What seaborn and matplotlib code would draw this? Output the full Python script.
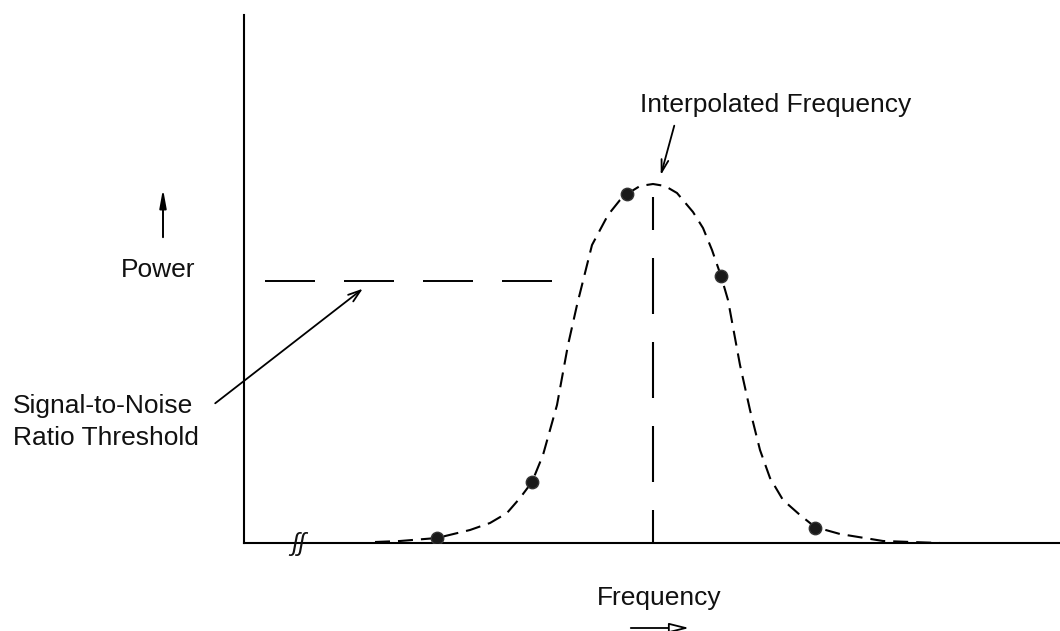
import matplotlib
matplotlib.use("Agg")
import matplotlib.pyplot as plt
import seaborn as sns
import pandas as pd

# ---- data (arbitrary frequency / power units) ----
curve_freq = [131, 156, 193, 226, 246, 263, 276, 288, 299, 313, 324, 333, 348, 364, 376, 383,
              396, 409, 421, 433, 449, 459, 468, 477, 484, 496, 506, 516, 526, 539, 556, 571,
              596, 639, 696]
curve_power = [1, 2, 5, 13, 20, 30, 45, 61, 88, 138, 198, 238, 298, 328, 343, 349,
               357, 359, 357, 350, 331, 315, 293, 267, 243, 178, 133, 93, 65, 43, 28, 16,
               9, 2, 0]
sample_freq = [193, 288, 383, 477, 571]
sample_power = [5, 61, 349, 267, 15]
interp_freq = 409
interp_line_top = 346
threshold = 262
threshold_start = 21
threshold_end = 311

sns.set_style("white")
plt.rcParams["font.family"] = ["Liberation Sans", "DejaVu Sans"]
plt.rcParams["lines.scale_dashes"] = False
plt.rcParams["text.color"] = "black"

fig = plt.figure(figsize=(10.6, 6.31), dpi=100)
ax = fig.add_axes([244 / 1060, 88 / 631, 816 / 1060, 528 / 631])
ax.set_xlim(0, 816)
ax.set_ylim(0, 528)
for s in ["top", "right"]:
    ax.spines[s].set_visible(False)
for s in ["left", "bottom"]:
    ax.spines[s].set_color("black")
    ax.spines[s].set_linewidth(1.5)
ax.set_xticks([])
ax.set_yticks([])
ax.patch.set_alpha(0)

px = 0.72  # points per pixel

curve = pd.DataFrame({"freq": curve_freq, "power": curve_power})
sns.lineplot(data=curve, x="freq", y="power", sort=False, estimator=None, ax=ax, color="black",
             linewidth=1.5, linestyle=(0, (15 * px, 8 * px)))

thr = pd.DataFrame({"freq": [threshold_start, threshold_end], "power": [threshold, threshold]})
sns.lineplot(data=thr, x="freq", y="power", estimator=None, ax=ax, color="black", linewidth=1.4,
             linestyle=(0, (50 * px, 29 * px)))

vline = pd.DataFrame({"freq": [interp_freq, interp_freq], "power": [interp_line_top, 0]})
sns.lineplot(data=vline, x="freq", y="power", sort=False, estimator=None, ax=ax, color="black",
             linewidth=1.5, linestyle=(23 * px, (56 * px, 28 * px)))

pts = pd.DataFrame({"freq": sample_freq, "power": sample_power})
sns.scatterplot(data=pts, x="freq", y="power", ax=ax, color="#1a1a1a", s=80,
                marker="o", edgecolor="#333333", linewidth=1, zorder=5)

ax.set_xlabel("")
ax.set_ylabel("")

fs = 19
tc = "#111111"
ax.text(-86, 266, "Power", fontsize=fs, ha="center", va="baseline", clip_on=False, color=tc)
ax.text(-231, 130, "Signal-to-Noise", fontsize=fs, ha="left", va="baseline", clip_on=False, color=tc)
ax.text(-231, 98, "Ratio Threshold", fontsize=fs, ha="left", va="baseline", clip_on=False, color=tc)
ax.text(396, 431, "Interpolated Frequency", fontsize=fs, ha="left", va="baseline", clip_on=False, color=tc)
ax.text(415, -62, "Frequency", fontsize=fs, ha="center", va="baseline", clip_on=False, color=tc)

# axis break mark
ax.text(54, -1, "ʃʃ", fontsize=18, ha="center", va="center", clip_on=False,
        style="italic", color=tc)

# arrows
ax.annotate("", xy=(-81, 357), xytext=(-81, 303), annotation_clip=False,
            arrowprops=dict(arrowstyle="-|>,head_length=1.1,head_width=0.2", color="black", lw=1.4))
ax.annotate("", xy=(448, -85), xytext=(384, -85), annotation_clip=False,
            arrowprops=dict(arrowstyle="-|>,head_length=1.2,head_width=0.3", fc="white",
                            ec="black", lw=1.3))
ax.annotate("", xy=(121, 256), xytext=(-31, 138), annotation_clip=False,
            arrowprops=dict(arrowstyle="->,head_length=0.9,head_width=0.3", color="black", lw=1.3))
ax.annotate("", xy=(416, 365), xytext=(431, 420), annotation_clip=False,
            arrowprops=dict(arrowstyle="->,head_length=0.9,head_width=0.25", color="black", lw=1.3))

fig.savefig("out.png", dpi=100, facecolor="white")
